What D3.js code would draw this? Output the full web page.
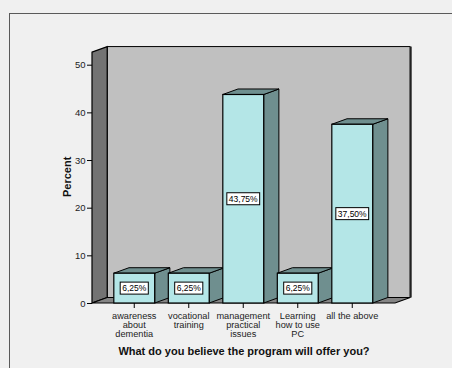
<!DOCTYPE html>
<html>
<head>
<meta charset="utf-8">
<script src="https://cdn.jsdelivr.net/npm/d3@7"></script>
<style>
  html, body { margin: 0; padding: 0; background: #f0f0f0; }
  svg { display: block; font-family: "Liberation Sans", Arial, sans-serif; }
</style>
</head>
<body>
<svg id="chart" width="452" height="368"></svg>
<script>
// Survey answers: "What do you believe the program will offer you?"
const categories = [
  "awareness\nabout\ndementia",
  "vocational\ntraining",
  "management\npractical\nissues",
  "Learning\nhow to use\nPC",
  "all the above"
];
const percents = [6.25, 6.25, 43.75, 6.25, 37.5];
const yTicks = [0, 10, 20, 30, 40, 50];
const xTitle = "What do you believe the program will offer you?";
const yTitle = "Percent";

// Plot box (front plane) and the 3D depth offset
const plotLeft = 92, plotRight = 395, plotBase = 303, plotTop = 64.7;
const wallTopValue = 52.65;
const dx = 15.2, dy = -5.5;

const svg = d3.select("#chart");

// Outer frame
svg.append("rect")
  .attr("x", 9.5).attr("y", 13.5)
  .attr("width", 460).attr("height", 370)
  .attr("fill", "#f0f0f0").attr("stroke", "#5a5a5a").attr("stroke-width", 1);

const y = d3.scaleLinear().domain([0, 50]).range([plotBase, plotTop]);
const x = d3.scaleBand()
  .domain(d3.range(categories.length))
  .range([107, 379.5])
  .paddingInner(0.25)
  .paddingOuter(0.125);

const wallTop = y(wallTopValue);
const pts = a => a.map(p => p.join(",")).join(" ");

// Back wall
svg.append("polygon")
  .attr("points", pts([[plotLeft + dx, wallTop + dy], [plotRight + dx, wallTop + dy], [plotRight + dx, plotBase + dy], [plotLeft + dx, plotBase + dy]]))
  .attr("fill", "#c0c0c0").attr("stroke", "#000").attr("stroke-width", 1);
svg.append("line")
  .attr("x1", plotRight + dx + 0.5).attr("x2", plotRight + dx + 0.5)
  .attr("y1", wallTop + dy).attr("y2", plotBase + dy)
  .attr("stroke", "#222").attr("stroke-width", 2);

// Left wall
svg.append("polygon")
  .attr("points", pts([[plotLeft, wallTop], [plotLeft + dx, wallTop + dy], [plotLeft + dx, plotBase + dy], [plotLeft, plotBase]]))
  .attr("fill", "#737373").attr("stroke", "#000").attr("stroke-width", 1.2);

// Floor
svg.append("polygon")
  .attr("points", pts([[plotLeft, plotBase], [plotRight, plotBase], [plotRight + dx, plotBase + dy], [plotLeft + dx, plotBase + dy]]))
  .attr("fill", "#858585").attr("stroke", "#000").attr("stroke-width", 1.2);

// Bars
const bars = svg.append("g").selectAll("g")
  .data(percents)
  .join("g");

bars.append("polygon") // side face
  .attr("points", (d, i) => {
    const x1 = x(i) + x.bandwidth(), yt = y(d);
    return pts([[x1, yt], [x1 + dx, yt + dy], [x1 + dx, plotBase + dy], [x1, plotBase]]);
  })
  .attr("fill", "#6f8f8f").attr("stroke", "#000").attr("stroke-width", 1);

bars.append("polygon") // top face
  .attr("points", (d, i) => {
    const x0 = x(i), x1 = x0 + x.bandwidth(), yt = y(d);
    return pts([[x0, yt], [x0 + dx, yt + dy], [x1 + dx, yt + dy], [x1, yt]]);
  })
  .attr("fill", "#6f8f8f").attr("stroke", "#000").attr("stroke-width", 1);

bars.append("rect") // front face
  .attr("x", (d, i) => x(i))
  .attr("y", d => y(d))
  .attr("width", x.bandwidth())
  .attr("height", d => plotBase - y(d))
  .attr("fill", "#b4e6e7").attr("stroke", "#000").attr("stroke-width", 1.2);

// Value labels
const fmt = d => d3.format(".2f")(d).replace(".", ",") + "%";
bars.each(function (d, i) {
  const g = d3.select(this);
  const cx = x(i) + x.bandwidth() / 2;
  const cy = (y(d) + plotBase) / 2;
  const t = g.append("text")
    .attr("x", cx).attr("y", cy)
    .attr("text-anchor", "middle").attr("dominant-baseline", "central")
    .attr("font-size", "8.5px").attr("fill", "#000")
    .text(fmt(d));
  const w = t.node().getComputedTextLength();
  g.insert("rect", "text")
    .attr("x", cx - w / 2 - 2).attr("y", cy - 6)
    .attr("width", w + 4).attr("height", 12)
    .attr("fill", "#fff").attr("stroke", "#000").attr("stroke-width", 1);
});

// Y axis
const yAxis = svg.append("g")
  .attr("transform", `translate(${plotLeft},0)`)
  .call(d3.axisLeft(y).tickValues(yTicks).tickSize(5).tickPadding(1.5));
yAxis.select(".domain").remove();
yAxis.selectAll("line").attr("stroke", "#000");
yAxis.selectAll("text")
  .attr("font-size", "9.5px").attr("fill", "#222")
  .attr("font-family", "Liberation Sans, Arial, sans-serif");

// X axis
const xAxis = svg.append("g")
  .attr("transform", `translate(0,${plotBase})`)
  .call(d3.axisBottom(x).tickSize(5).tickFormat(""));
xAxis.select(".domain").remove();
xAxis.selectAll("line").attr("stroke", "#000");

const catLabels = svg.append("g");
categories.forEach((c, i) => {
  const t = catLabels.append("text")
    .attr("x", x(i) + x.bandwidth() / 2)
    .attr("y", plotBase + 15.5)
    .attr("text-anchor", "middle")
    .attr("font-size", "9.2px").attr("fill", "#222");
  c.split("\n").forEach((line, k) => {
    t.append("tspan")
      .attr("x", x(i) + x.bandwidth() / 2)
      .attr("dy", k === 0 ? 0 : 9)
      .text(line);
  });
});

// Axis titles
svg.append("text")
  .attr("x", (plotLeft + plotRight) / 2 + 0.5).attr("y", 354.5)
  .attr("text-anchor", "middle")
  .attr("font-size", "11px").attr("font-weight", "bold").attr("fill", "#111")
  .text(xTitle);

svg.append("text")
  .attr("transform", `translate(70.5,${(y(0) + y(50)) / 2 - 7}) rotate(-90)`)
  .attr("text-anchor", "middle")
  .attr("font-size", "11px").attr("font-weight", "bold").attr("fill", "#111")
  .text(yTitle);
</script>
</body>
</html>
